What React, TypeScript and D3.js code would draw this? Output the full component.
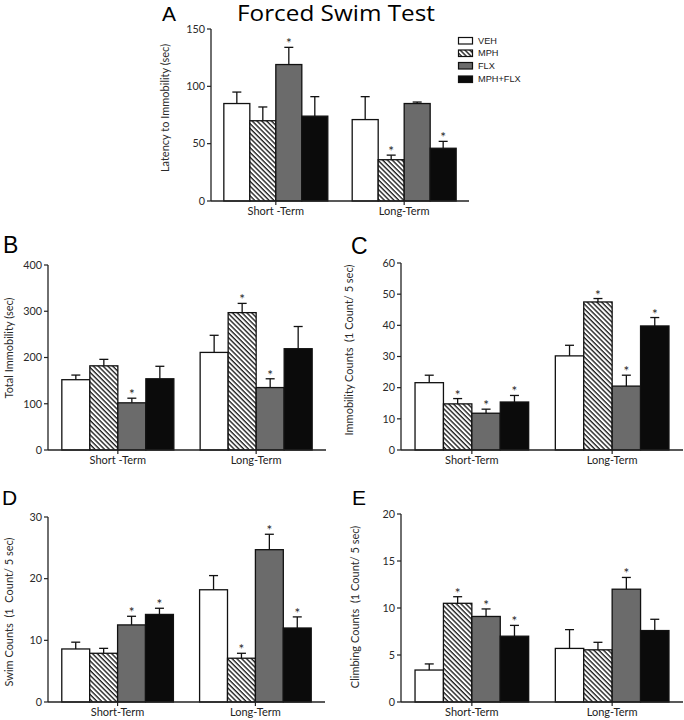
import React from "react";
import * as d3 from "d3";

// ---------- DATA ----------
const groups = ["VEH", "MPH", "FLX", "MPH+FLX"];
const catsAB = ["Short -Term", "Long-Term"];
const catsCDE = ["Short-Term", "Long-Term"];

// A: Latency to Immobility (sec)
const latencyMean = [[85, 70, 119, 74], [71, 36, 85, 46]];
const latencySem = [[10, 12, 15, 17], [20, 4, 1.3, 6]];
const latencyStar = [[0, 0, 1, 0], [0, 1, 0, 1]];
const latencyTicks = [0, 50, 100, 150];

// B: Total Immobility (sec)
const totalMean = [[152, 182, 102, 154], [211, 297, 135, 219]];
const totalSem = [[10, 14, 10, 27], [37, 20, 19, 48]];
const totalStar = [[0, 0, 1, 0], [0, 1, 1, 0]];
const totalTicks = [0, 100, 200, 300, 400];

// C: Immobility Counts
const immMean = [[21.6, 14.8, 11.8, 15.4], [30.2, 47.5, 20.5, 39.8]];
const immSem = [[2.4, 1.7, 1.3, 2.1], [3.4, 1.1, 3.5, 2.7]];
const immStar = [[0, 1, 1, 1], [0, 1, 1, 1]];
const immTicks = [0, 10, 20, 30, 40, 50, 60];

// D: Swim Counts
const swimMean = [[8.6, 7.9, 12.5, 14.2], [18.2, 7.1, 24.7, 12.0]];
const swimSem = [[1.1, 0.8, 1.4, 1.0], [2.3, 0.8, 2.5, 1.8]];
const swimStar = [[0, 0, 1, 1], [0, 1, 1, 1]];
const swimTicks = [0, 10, 20, 30];

// E: Climbing Counts
const climbMean = [[3.4, 10.5, 9.1, 7.0], [5.7, 5.55, 12.0, 7.6]];
const climbSem = [[0.65, 0.7, 0.8, 1.15], [2.0, 0.8, 1.25, 1.2]];
const climbStar = [[0, 1, 1, 1], [0, 0, 1, 0]];
const climbTicks = [0, 5, 10, 15, 20];

// ---------- STYLE ----------
const FONT = "Lato, 'Open Sans', sans-serif";
const AXIS = "#222";
const fills: Record<string, string> = {
  VEH: "#ffffff",
  MPH: "url(#hatch)",
  FLX: "#6b6b6b",
  "MPH+FLX": "#0b0b0b",
};

type PanelProps = {
  x0: number; x1: number; y0: number; y1: number;
  ticks: number[]; cats: string[];
  mean: number[][]; sem: number[][]; star: number[][];
  ytitle: string; tx: number; ty: number;
};

function Panel(p: PanelProps) {
  const max = p.ticks[p.ticks.length - 1];
  const y = d3.scaleLinear().domain([0, max]).range([p.y0, p.y1]);
  const xo = d3.scaleBand<string>().domain(p.cats).range([p.x0, p.x1]).paddingInner(0.19).paddingOuter(0.1);
  const xi = d3.scaleBand<string>().domain(groups).range([0, xo.bandwidth()]);
  const cap = 4.5;
  return (
    <g>
      {p.cats.map((c, ci) => (
        <g key={c}>
          {groups.map((g, gi) => {
            const v = p.mean[ci][gi];
            const bx = (xo(c) as number) + (xi(g) as number);
            const bw = xi.bandwidth();
            return (
              <rect key={g} x={bx} y={y(v)} width={bw} height={p.y0 - y(v)}
                fill={fills[g]} stroke="#111" strokeWidth={1.3} />
            );
          })}
          {groups.map((g, gi) => {
            const v = p.mean[ci][gi];
            const e = v + p.sem[ci][gi];
            const cx = (xo(c) as number) + (xi(g) as number) + xi.bandwidth() / 2;
            return (
              <g key={g + "e"}>
                <line x1={cx} x2={cx} y1={y(v)} y2={y(e)} stroke="#111" strokeWidth={1.3} />
                <line x1={cx - cap} x2={cx + cap} y1={y(e)} y2={y(e)} stroke="#111" strokeWidth={1.3} />
                {p.star[ci][gi] ? (
                  <text x={cx} y={y(e) + 1} textAnchor="middle" fontFamily={FONT} fontSize={13.5} fill="#222">*</text>
                ) : null}
              </g>
            );
          })}
        </g>
      ))}
      {/* y axis */}
      <line x1={p.x0} x2={p.x0} y1={p.y0} y2={p.y1} stroke={AXIS} strokeWidth={1.3} />
      {p.ticks.map((t) => (
        <g key={t}>
          <line x1={p.x0 - 4} x2={p.x0} y1={y(t)} y2={y(t)} stroke={AXIS} strokeWidth={1.2} />
          <text x={p.x0 - 6} y={y(t)} dy="0.35em" textAnchor="end" fontFamily={FONT} fontSize={10.8} fill="#2a2a2a">{t}</text>
        </g>
      ))}
      {/* x axis */}
      <line x1={p.x0} x2={p.x1} y1={p.y0} y2={p.y0} stroke={AXIS} strokeWidth={1.3} />
      {p.cats.map((c) => {
        const cx = (xo(c) as number) + xo.bandwidth() / 2;
        return (
          <g key={c + "t"}>
            <line x1={cx} x2={cx} y1={p.y0} y2={p.y0 + 4} stroke={AXIS} strokeWidth={1.2} />
            <text x={cx} y={p.y0 + 14} textAnchor="middle" fontFamily={FONT} fontSize={11} fill="#222">{c}</text>
          </g>
        );
      })}
      <text transform={`translate(${p.tx},${p.ty}) rotate(-90)`} textAnchor="middle" dominantBaseline="central"
        fontFamily={FONT} fontSize={11} fill="#2a2a2a" style={{ whiteSpace: "pre" }}>{p.ytitle}</text>
    </g>
  );
}

export default function App() {
  const legendY = [40.5, 53, 65.5, 79];
  return (
    <svg width={684} height={720} style={{ position: "absolute", left: 0, top: 0, background: "#fff" }}>
      <defs>
        <pattern id="hatch" patternUnits="userSpaceOnUse" width={3.4} height={3.4} patternTransform="rotate(-45)">
          <rect width={3.4} height={3.4} fill="#fff" />
          <line x1={1} x2={1} y1={0} y2={3.4} stroke="#111" strokeWidth={1.3} />
        </pattern>
      </defs>
      <rect width={684} height={720} fill="#fff" />

      <text x={162} y={21} fontFamily="'Liberation Sans', Arial, sans-serif" fontSize={21} fill="#000">A</text>
      <text x={336} y={21} textAnchor="middle" fontFamily="'Open Sans', sans-serif" fontSize={21}
        textLength={198} lengthAdjust="spacingAndGlyphs" fill="#000">Forced Swim Test</text>
      <text x={3} y={253} fontFamily="'Liberation Sans', Arial, sans-serif" fontSize={23} fill="#000">B</text>
      <text x={351} y={254} fontFamily="'Liberation Sans', Arial, sans-serif" fontSize={23} fill="#000">C</text>
      <text x={2} y={505} fontFamily="'Liberation Sans', Arial, sans-serif" fontSize={21} fill="#000">D</text>
      <text x={352} y={505} fontFamily="'Liberation Sans', Arial, sans-serif" fontSize={21} fill="#000">E</text>

      <Panel x0={211} x1={469} y0={201} y1={29} ticks={latencyTicks} cats={catsAB}
        mean={latencyMean} sem={latencySem} star={latencyStar}
        ytitle="Latency to Immobility (sec)" tx={164} ty={108} />
      <Panel x0={48} x1={326} y0={450} y1={265} ticks={totalTicks} cats={catsAB}
        mean={totalMean} sem={totalSem} star={totalStar}
        ytitle="Total Immobility (sec)" tx={8} ty={348} />
      <Panel x0={401} x1={683} y0={450} y1={263} ticks={immTicks} cats={catsCDE}
        mean={immMean} sem={immSem} star={immStar}
        ytitle="Immobility Counts  (1 Count/ 5 sec)" tx={348} ty={350} />
      <Panel x0={48} x1={325} y0={702} y1={517} ticks={swimTicks} cats={catsCDE}
        mean={swimMean} sem={swimSem} star={swimStar}
        ytitle="Swim Counts  (1  Count/ 5 sec)" tx={8} ty={612} />
      <Panel x0={401} x1={683} y0={702} y1={514} ticks={climbTicks} cats={catsCDE}
        mean={climbMean} sem={climbSem} star={climbStar}
        ytitle="Climbing Counts  (1 Count/ 5 sec)" tx={354} ty={607} />

      {groups.map((g, i) => (
        <g key={g}>
          <rect x={458.5} y={legendY[i] - 3} width={14} height={6.5} fill={fills[g]} stroke="#111" strokeWidth={1.2} />
          <text x={478} y={legendY[i]} dy="0.35em" fontFamily="'Liberation Sans', Arial, sans-serif" fontSize={9.2} fill="#222">{g}</text>
        </g>
      ))}
    </svg>
  );
}
